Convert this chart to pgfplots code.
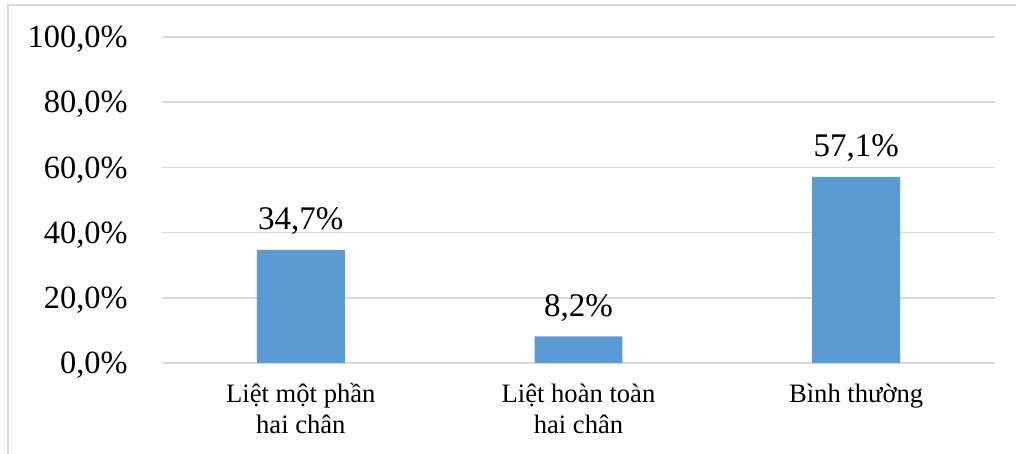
\documentclass[border=0pt]{standalone}
\usepackage{pgfplots}
\pgfplotsset{compat=1.18}
\usepackage{fontspec}
\setmainfont{Liberation Serif}
\definecolor{barblue}{HTML}{5B9BD5}
\definecolor{gridgray}{HTML}{D9D9D9}
\begin{document}
\begin{tikzpicture}
\useasboundingbox (-81pt,-45.5pt) rectangle (427pt,181.5pt);
\draw[gridgray, line width=0.75pt] (-77pt,-50pt) -- (-77pt,179pt) -- (430pt,179pt);
\begin{axis}[
  at={(0,0)}, anchor=south west,
  scale only axis,
  width=416.5pt, height=163pt,
  xmin=-0.5, xmax=2.5,
  ymin=0, ymax=100,
  ytick={0,20,40,60,80,100},
  yticklabels={{0,0\%},{20,0\%},{40,0\%},{60,0\%},{80,0\%},{100,0\%}},
  xtick={0,1,2},
  xticklabels={{Liệt một phần\\hai chân},{Liệt hoàn toàn\\hai chân},{Bình thường\\\mbox{}}},
  xticklabel style={align=center, font=\fontsize{13.3pt}{15.5pt}\selectfont, anchor=base, inner sep=0pt, yshift=-35.5pt},
  yticklabel style={font=\fontsize{16.2pt}{19pt}\selectfont, anchor=base east, inner sep=0pt, xshift=-17pt, yshift=-5.4pt},
  /pgf/number format/assume math mode=true,
  major tick length=0pt,
  axis line style={draw=none},
  ymajorgrids,
  grid style={gridgray, line width=0.75pt},
  ybar, bar width=0.3165,
  bar shift=0pt,
  nodes near coords,
  point meta=explicit symbolic,
  every node near coord/.append style={font=\fontsize{16.5pt}{19pt}\selectfont, anchor=base, inner sep=0pt, yshift=10pt, black},
  clip=false,
]
\addplot[fill=barblue, draw=none] coordinates {(0,34.7) [34,7\%] (1,8.2) [8,2\%] (2,57.1) [57,1\%]};
\end{axis}
\end{tikzpicture}
\end{document}
